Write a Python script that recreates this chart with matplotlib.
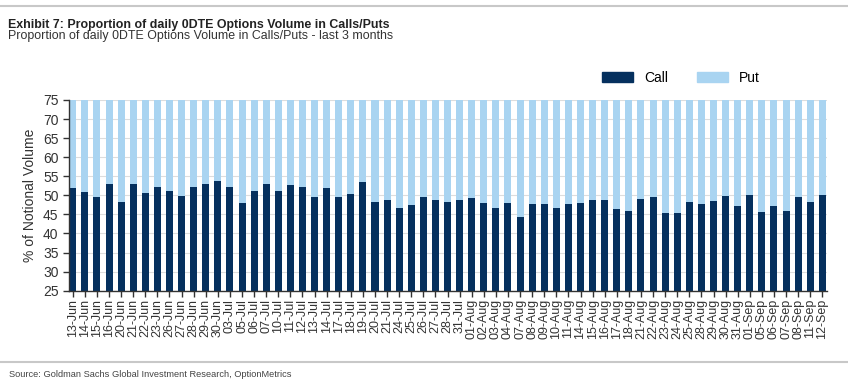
import numpy as np
import matplotlib
matplotlib.use("Agg")
import matplotlib.pyplot as plt
from matplotlib.patches import Patch
from matplotlib.lines import Line2D

plt.rcParams['font.family'] = ['Liberation Sans', 'DejaVu Sans']

dates = ['13-Jun', '14-Jun', '15-Jun', '16-Jun', '20-Jun', '21-Jun', '22-Jun', '23-Jun',
         '26-Jun', '27-Jun', '28-Jun', '29-Jun', '30-Jun',
         '03-Jul', '05-Jul', '06-Jul', '07-Jul', '10-Jul', '11-Jul', '12-Jul', '13-Jul',
         '14-Jul', '17-Jul', '18-Jul', '19-Jul', '20-Jul', '21-Jul', '24-Jul', '25-Jul',
         '26-Jul', '27-Jul', '28-Jul', '31-Jul',
         '01-Aug', '02-Aug', '03-Aug', '04-Aug', '07-Aug', '08-Aug', '09-Aug', '10-Aug',
         '11-Aug', '14-Aug', '15-Aug', '16-Aug', '17-Aug', '18-Aug', '21-Aug', '22-Aug',
         '23-Aug', '24-Aug', '25-Aug', '28-Aug', '29-Aug', '30-Aug', '31-Aug',
         '01-Sep', '05-Sep', '06-Sep', '07-Sep', '08-Sep', '11-Sep', '12-Sep']

# call share of notional volume (%), put share is the rest
call = [52.0, 51.0, 49.5, 52.9, 48.2, 52.9, 50.5, 52.1, 51.2, 49.8, 52.1, 52.9, 53.7,
        52.3, 48.1, 51.2, 52.9, 51.2, 52.7, 52.3, 49.6,
        51.9, 49.5, 50.4, 53.6, 48.3, 48.9, 46.6, 47.5, 49.6, 48.9, 48.2, 48.8,
        49.2, 48.0, 46.6, 48.0, 44.4, 47.6, 47.8, 46.6, 47.6, 47.9, 48.9, 48.8,
        46.3, 45.8, 49.1, 49.6, 45.4, 45.4, 48.2, 47.6, 48.4, 49.8, 47.1,
        50.1, 45.6, 47.1, 45.8, 49.5, 48.2, 50.1]
put = [100 - c for c in call]

call_col = '#05305E'
put_col = '#A9D4F1'

fig = plt.figure(figsize=(8.48, 3.84), dpi=100)
ax = fig.add_axes([0.0814, 0.243, 0.894, 0.4966])

x = np.arange(len(dates))
ax.bar(x, call, width=0.58, bottom=0, color=call_col, zorder=2)
ax.bar(x, put, width=0.58, bottom=call, color=put_col, zorder=2)

ax.set_ylim(25, 75)
ax.set_xlim(-0.31, 62.4)
ax.set_yticks(np.arange(25, 76, 5))
ax.set_xticks(x)
ax.set_xticklabels(dates, rotation=90, fontsize=9, color='#333333')
ax.tick_params(axis='y', labelsize=10, colors='#333333', length=4, width=1)
ax.tick_params(axis='x', length=4, width=1, colors='#333333', pad=2)
ax.yaxis.grid(True, color='#DDDDDD', lw=0.8, zorder=0)
ax.set_axisbelow(True)
for s in ['top', 'right']:
    ax.spines[s].set_visible(False)
for s in ['left', 'bottom']:
    ax.spines[s].set_color('#333333')
    ax.spines[s].set_linewidth(1)
ax.set_ylabel('% of Notional Volume', fontsize=10, color='#333333', labelpad=4)

handles = [Patch(color=call_col, label='Call'), Patch(color=put_col, label='Put')]
fig.legend(handles=handles, loc='center', bbox_to_anchor=(0.803, 0.797), ncol=2,
           frameon=False, fontsize=10, handlelength=2.2, handleheight=0.65,
           columnspacing=2.1, handletextpad=0.8)

fig.text(0.009, 0.936, 'Exhibit 7: Proportion of daily 0DTE Options Volume in Calls/Puts',
         fontsize=8.9, fontweight='bold', color='#222222', va='center')
fig.text(0.009, 0.906, 'Proportion of daily 0DTE Options Volume in Calls/Puts - last 3 months',
         fontsize=8.9, color='#333333', va='center')
fig.text(0.011, 0.024, 'Source: Goldman Sachs Global Investment Research, OptionMetrics',
         fontsize=6.7, color='#444444', va='center')

fig.add_artist(Line2D([0, 1], [0.984, 0.984], color='#C8C8C8', lw=1.5, transform=fig.transFigure))
fig.add_artist(Line2D([0, 1], [0.056, 0.056], color='#C8C8C8', lw=1.5, transform=fig.transFigure))

fig.savefig('out.png', dpi=100)
